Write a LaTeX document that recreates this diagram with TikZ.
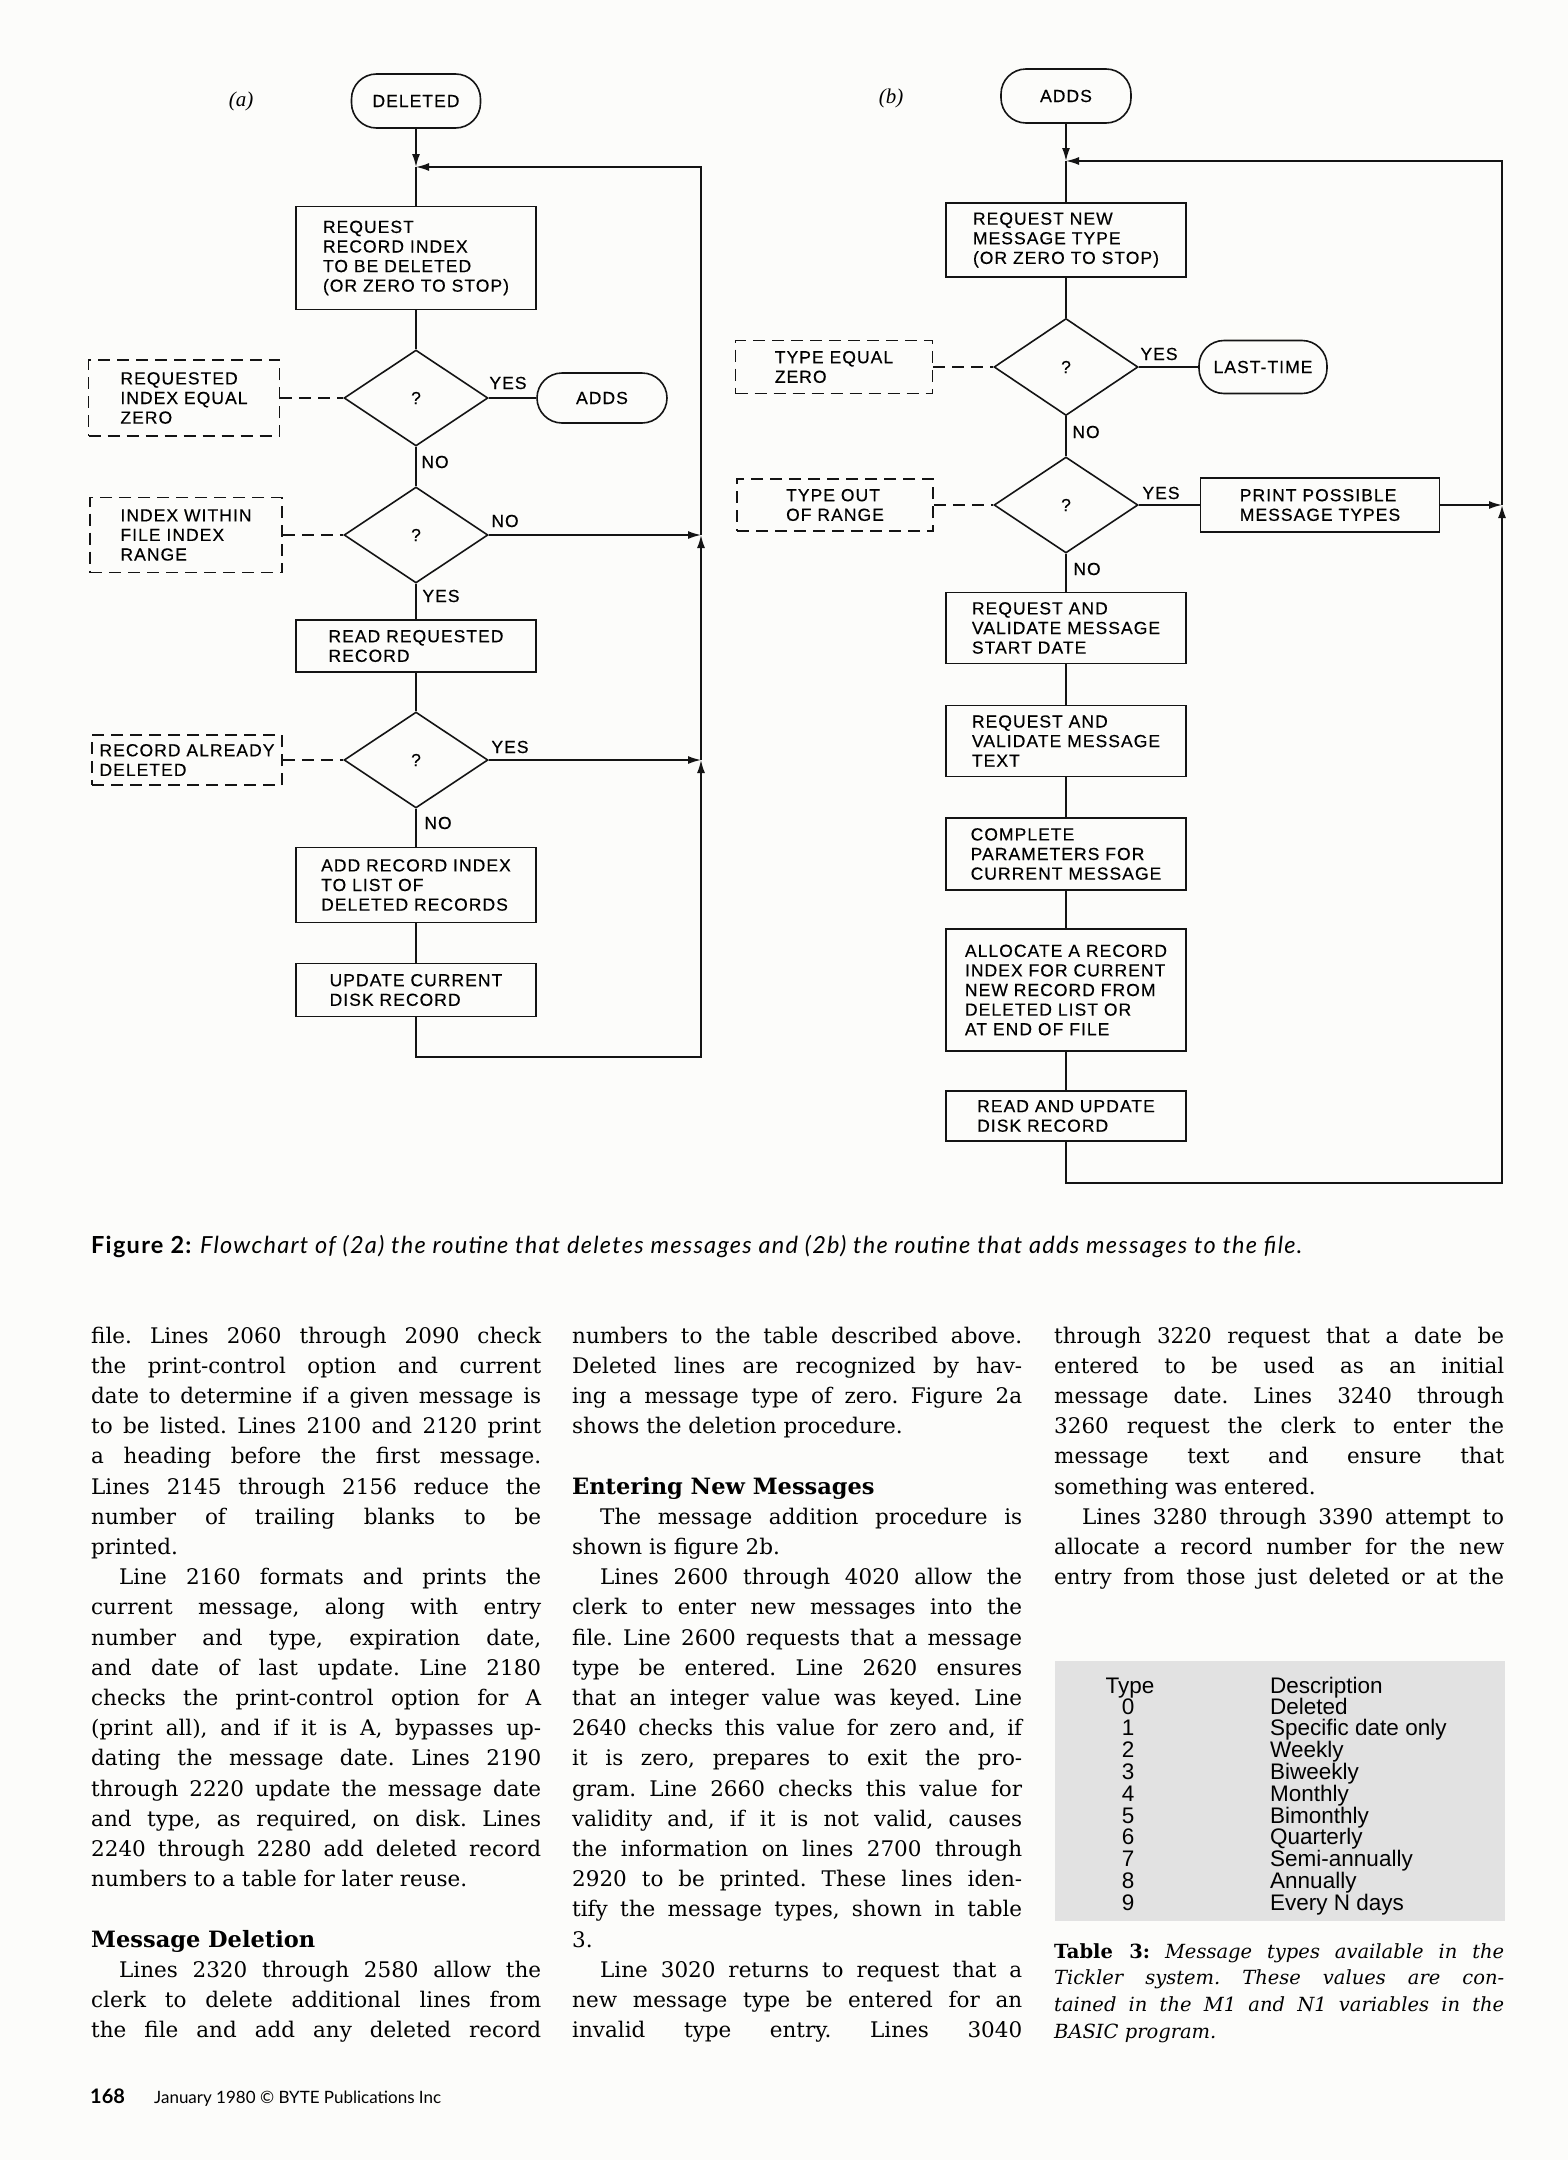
\documentclass[tikz,border=0pt]{standalone}
\usepackage{fontspec}
\setmainfont{DejaVu Serif}
\newfontfamily\flowfam{Liberation Sans}[LetterSpace=6.0, FakeBold=0.4]
\newfontfamily\tabfam{Liberation Sans}
\newfontfamily\capfam{Lato}
\newfontfamily\capwide{Lato}[LetterSpace=5.5]
\newfontfamily\labfam{Liberation Serif}
\usepackage{xcolor}
\usepackage{tikz}
\usetikzlibrary{shapes.geometric, positioning, arrows.meta, calc}
\definecolor{InkBlack}{RGB}{20,20,20}
\definecolor{PaperWhite}{RGB}{252,252,250}
\definecolor{TabGray}{RGB}{226,226,226}
\frenchspacing
\newcommand{\flowfont}{\flowfam\fontsize{17.5}{19.6}\selectfont}
\newcommand{\bodyfont}{\frenchspacing\fontsize{21.5}{30.2}\selectfont}
\newcommand{\capfont}{\capwide\fontsize{23.5}{26}\selectfont}
\newcommand{\tabfont}{\tabfam\fontsize{22.5}{22}\selectfont}
\newcommand{\tcapfont}{\frenchspacing\fontsize{19.5}{26.7}\selectfont\itshape}
\newcommand{\footfont}{\capfam\fontsize{17}{18}\selectfont}
\newcommand{\labelfont}{\labfam\itshape\fontsize{21}{24}\selectfont}
\newcommand{\jline}[1]{\hbox to\hsize{#1}}
\newcommand{\eline}[1]{\hbox to\hsize{#1\hfil}}
\newcommand{\parin}{\hskip 28pt\relax}
\newcommand{\sechead}[1]{\hbox{\fontsize{22.5}{30.2}\selectfont\bfseries #1}}

\begin{document}
\begin{tikzpicture}[x=1pt, y=-1pt,
          proc/.style={draw=InkBlack, line width=1.6pt, font=\flowfont,
                       align=left, inner sep=0pt, minimum width=240pt},
          term/.style={draw=InkBlack, line width=1.6pt, font=\flowfont,
                       rounded corners=25pt, inner sep=0pt},
          decide/.style={diamond, aspect=1.5, draw=InkBlack, line width=1.6pt,
                         font=\flowfont, inner sep=0pt,
                         minimum width=144pt, minimum height=96pt},
          cond/.style={draw=InkBlack, line width=1.6pt, dash pattern=on 12pt off 7pt,
                       font=\flowfont, align=left, inner sep=0pt},
          tag/.style={font=\flowfont, inner sep=0pt},
          flow/.style={draw=InkBlack, line width=1.6pt},
          arr/.style={flow, -{Latex[length=13pt, width=8pt]}},
          dashlink/.style={flow, dash pattern=on 12pt off 7pt},
          body/.style={font=\bodyfont, inner sep=0pt, anchor=base west},
          tabtext/.style={font=\tabfont, inner sep=0pt}
        ]
        \useasboundingbox (0,0) rectangle (1568,2160);
        \fill[PaperWhite] (0,0) rectangle (1568,2160);

        % (a) delete routine
        \node[tag, font=\labelfont] (lblA) at (241,101) {(a)};
        \node[term, minimum width=129pt, minimum height=54pt] (delA) at (416,101) {DELETED};
        \coordinate (joinA) at (416,167);
        \node[proc, minimum height=103pt] (reqidx) at (416,258)
              {REQUEST\\RECORD INDEX\\TO BE DELETED\\(OR ZERO TO STOP)};
        \node[decide] (qzeroA) at (416,398) {?};
        \node[cond, minimum width=191pt, minimum height=76pt] (izero) at (184,398)
              {REQUESTED\\INDEX EQUAL\\ZERO};
        \node[term, minimum width=130pt, minimum height=50pt] (addsA) at (602,398) {ADDS};
        \node[tag] (yesA1) at (508,383) {YES};
        \node[tag] (noA1) at (435,462) {NO};
        \node[decide] (qrange) at (416,535) {?};
        \node[cond, minimum width=192pt, minimum height=75pt] (irange) at (186,535)
              {INDEX WITHIN\\FILE INDEX\\RANGE};
        \node[tag] (noA2) at (505,521) {NO};
        \node[tag] (yesA2) at (441,596) {YES};
        \node[proc, minimum height=52pt] (readrec) at (416,646) {READ REQUESTED\\RECORD};
        \node[decide] (qdel) at (416,760) {?};
        \node[cond, minimum width=190pt, minimum height=50pt] (idel) at (187,760)
              {RECORD ALREADY\\DELETED};
        \node[tag] (yesA3) at (510,747) {YES};
        \node[tag] (noA3) at (438,823) {NO};
        \node[proc, minimum height=75pt] (addlist) at (416,885)
              {ADD RECORD INDEX\\TO LIST OF\\DELETED RECORDS};
        \node[proc, minimum height=53pt] (update) at (416,990) {UPDATE CURRENT\\DISK RECORD};
        \coordinate (bendA) at (701,1057);
        \coordinate (sideA1) at (701,760);
        \coordinate (sideA2) at (701,535);
        \coordinate (topA) at (701,167);

        \draw[arr] (delA) -- (joinA);
        \draw[flow] (joinA) -- (reqidx);
        \draw[flow] (reqidx) -- (qzeroA);
        \draw[dashlink] (izero) -- (qzeroA);
        \draw[flow] (qzeroA) -- (addsA);
        \draw[flow] (qzeroA) -- (qrange);
        \draw[dashlink] (irange) -- (qrange);
        \draw[arr] (qrange) -- (sideA2);
        \draw[flow] (qrange) -- (readrec);
        \draw[flow] (readrec) -- (qdel);
        \draw[dashlink] (idel) -- (qdel);
        \draw[arr] (qdel) -- (sideA1);
        \draw[flow] (qdel) -- (addlist);
        \draw[flow] (addlist) -- (update);
        \draw[arr] (update.south) |- (bendA) -- (sideA1);
        \draw[arr] (sideA1) -- (sideA2);
        \draw[arr] (sideA2) -- (topA) -- (joinA);

        % (b) add routine
        \node[tag, font=\labelfont] (lblB) at (891,98) {(b)};
        \node[term, minimum width=130pt, minimum height=54pt] (addsB) at (1066,96) {ADDS};
        \coordinate (joinB) at (1066,161);
        \node[proc, minimum height=74pt] (reqtype) at (1066,240)
              {REQUEST NEW\\MESSAGE TYPE\\(OR ZERO TO STOP)};
        \node[decide, minimum height=97pt] (qzeroB) at (1066,367) {?};
        \node[cond, minimum width=197pt, minimum height=53pt] (tzero) at (834,367)
              {TYPE EQUAL\\ZERO};
        \node[term, minimum width=128pt, minimum height=53pt] (lasttime) at (1263,367) {LAST-TIME};
        \node[tag] (yesB1) at (1159,354) {YES};
        \node[tag] (noB1) at (1086,432) {NO};
        \node[decide] (qtype) at (1066,505) {?};
        \node[cond, minimum width=196pt, minimum height=52pt] (trange) at (835,505)
              {TYPE OUT\\OF RANGE};
        \node[proc, minimum width=239pt, minimum height=54pt] (printtypes) at (1320,505)
              {PRINT POSSIBLE\\MESSAGE TYPES};
        \node[tag] (yesB2) at (1161,493) {YES};
        \node[tag] (noB2) at (1087,569) {NO};
        \node[proc, minimum height=71pt] (startdate) at (1066,628)
              {REQUEST AND\\VALIDATE MESSAGE\\START DATE};
        \node[proc, minimum height=71pt] (msgtext) at (1066,741)
              {REQUEST AND\\VALIDATE MESSAGE\\TEXT};
        \node[proc, minimum height=72pt] (complete) at (1066,854)
              {COMPLETE\\PARAMETERS FOR\\CURRENT MESSAGE};
        \node[proc, minimum height=122pt] (alloc) at (1066,990)
              {ALLOCATE A RECORD\\INDEX FOR CURRENT\\NEW RECORD FROM\\DELETED LIST OR\\AT END OF FILE};
        \node[proc, minimum height=50pt] (readupd) at (1066,1116) {READ AND UPDATE\\DISK RECORD};
        \coordinate (bendB) at (1502,1183);
        \coordinate (sideB) at (1502,505);
        \coordinate (topB) at (1502,161);

        \draw[arr] (addsB) -- (joinB);
        \draw[flow] (joinB) -- (reqtype);
        \draw[flow] (reqtype) -- (qzeroB);
        \draw[dashlink] (tzero) -- (qzeroB);
        \draw[flow] (qzeroB) -- (lasttime);
        \draw[flow] (qzeroB) -- (qtype);
        \draw[dashlink] (trange) -- (qtype);
        \draw[flow] (qtype) -- (printtypes);
        \draw[arr] (printtypes) -- (sideB);
        \draw[flow] (qtype) -- (startdate);
        \draw[flow] (startdate) -- (msgtext);
        \draw[flow] (msgtext) -- (complete);
        \draw[flow] (complete) -- (alloc);
        \draw[flow] (alloc) -- (readupd);
        \draw[arr] (readupd.south) |- (bendB) -- (sideB);
        \draw[arr] (sideB) -- (topB) -- (joinB);

        % caption
        \node[anchor=base west, inner sep=0pt, font=\capfont] (figcap) at (91,1253)
              {\textbf{Figure 2:} \textit{Flowchart of (2a) the routine that deletes messages and (2b) the routine that adds messages to the file.}};

        % text columns
        \node[body] (colone) at (91,1343) {\vtop{\hsize=450pt
          \jline{file. Lines 2060 through 2090 check}
          \jline{the print-control option and current}
          \jline{date to determine if a given message is}
          \jline{to be listed. Lines 2100 and 2120 print}
          \jline{a heading before the first message.}
          \jline{Lines 2145 through 2156 reduce the}
          \jline{number of trailing blanks to be}
          \eline{printed.}
          \jline{\parin Line 2160 formats and prints the}
          \jline{current message, along with entry}
          \jline{number and type, expiration date,}
          \jline{and date of last update. Line 2180}
          \jline{checks the print-control option for A}
          \jline{(print all), and if it is A, bypasses up-}
          \jline{dating the message date. Lines 2190}
          \jline{through 2220 update the message date}
          \jline{and type, as required, on disk. Lines}
          \jline{2240 through 2280 add deleted record}
          \eline{numbers to a table for later reuse.}
          \vskip30.2pt
          \sechead{Message Deletion}
          \jline{\parin Lines 2320 through 2580 allow the}
          \jline{clerk to delete additional lines from}
          \jline{the file and add any deleted record}}};

        \node[body] (coltwo) at (572,1343) {\vtop{\hsize=450pt
          \jline{numbers to the table described above.}
          \jline{Deleted lines are recognized by hav-}
          \jline{ing a message type of zero. Figure 2a}
          \eline{shows the deletion procedure.}
          \vskip30.2pt
          \sechead{Entering New Messages}
          \jline{\parin The message addition procedure is}
          \eline{shown is figure 2b.}
          \jline{\parin Lines 2600 through 4020 allow the}
          \jline{clerk to enter new messages into the}
          \jline{file. Line 2600 requests that a message}
          \jline{type be entered. Line 2620 ensures}
          \jline{that an integer value was keyed. Line}
          \jline{2640 checks this value for zero and, if}
          \jline{it is zero, prepares to exit the pro-}
          \jline{gram. Line 2660 checks this value for}
          \jline{validity and, if it is not valid, causes}
          \jline{the information on lines 2700 through}
          \jline{2920 to be printed. These lines iden-}
          \jline{tify the message types, shown in table}
          \eline{3.}
          \jline{\parin Line 3020 returns to request that a}
          \jline{new message type be entered for an}
          \jline{invalid type entry. Lines 3040}}};

        \node[body] (colthree) at (1054,1343) {\vtop{\hsize=450pt
          \jline{through 3220 request that a date be}
          \jline{entered to be used as an initial}
          \jline{message date. Lines 3240 through}
          \jline{3260 request the clerk to enter the}
          \jline{message text and ensure that}
          \eline{something was entered.}
          \jline{\parin Lines 3280 through 3390 attempt to}
          \jline{allocate a record number for the new}
          \jline{entry from those just deleted or at the}}};

        % table 3
        \node[fill=TabGray, minimum width=450pt, minimum height=260pt, inner sep=0pt]
              (tabpanel) at (1280,1791) {};
        \node[tabtext, anchor=base] (thtype) at (1130,1693) {Type};
        \node[tabtext, anchor=base west] (thdesc) at (1270,1693) {Description};
        \foreach \d [count=\i from 0] in {Deleted, Specific date only, Weekly, Biweekly,
            Monthly, Bimonthly, Quarterly, Semi-annually, Annually, Every N days} {
          \node[tabtext, anchor=base] (tn\i) at (1128,1714+21.8*\i) {\i};
          \node[tabtext, anchor=base west] (td\i) at (1270,1714+21.8*\i) {\d};
        }
        \node[body, font=\tcapfont] (tabcap) at (1054,1958) {\vtop{\hsize=450pt
          \jline{{\upshape\bfseries Table 3:} Message types available in the}
          \jline{Tickler system. These values are con-}
          \jline{tained in the M1 and N1 variables in the}
          \eline{BASIC program.}}};

        % footer
        \node[anchor=base west, inner sep=0pt, font=\capfam\fontsize{20}{22}\selectfont\bfseries]
              (pgno) at (90,2103) {168};
        \node[anchor=base west, inner sep=0pt, font=\footfont] (imprint) at (154,2103)
              {January 1980 © BYTE Publications Inc};
      \end{tikzpicture}
\end{document}
